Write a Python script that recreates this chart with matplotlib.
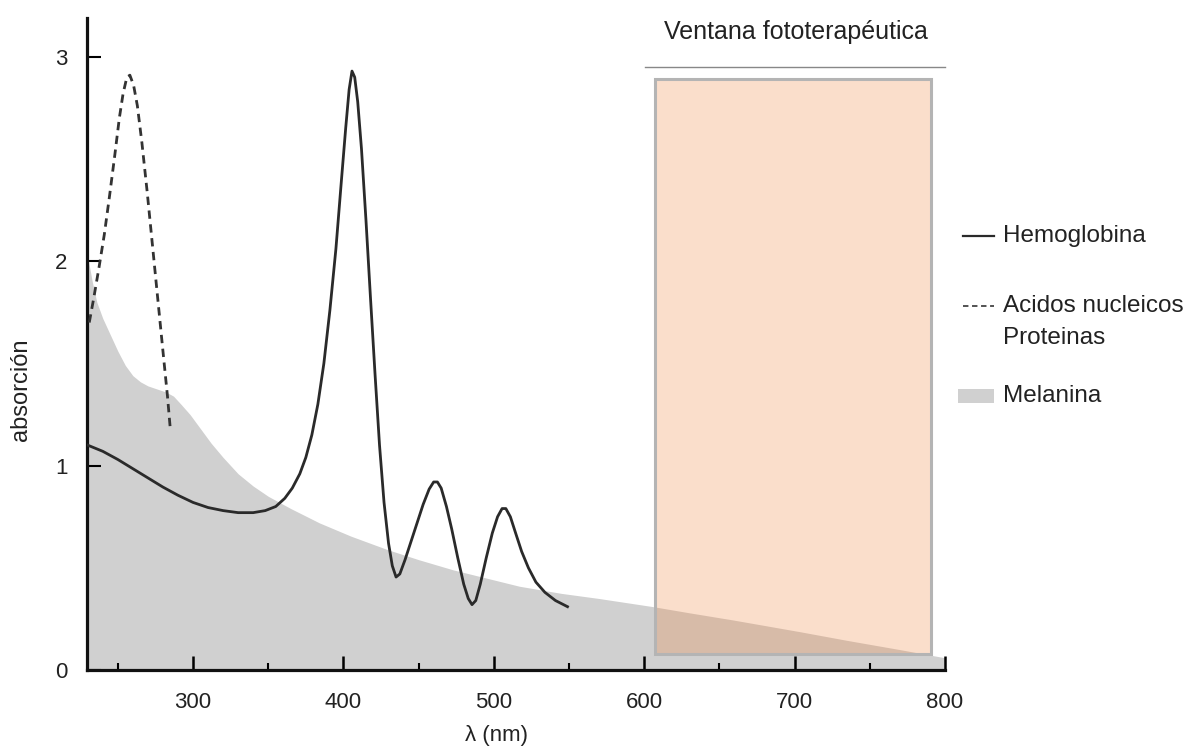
import matplotlib
matplotlib.use("Agg")
import matplotlib.pyplot as plt
from matplotlib.lines import Line2D
from matplotlib.patches import Rectangle

plt.rcParams['font.family'] = ['Liberation Sans', 'DejaVu Sans']

# ---- data ----
hemo_nm = [230, 240, 250, 260, 270, 280, 290, 300, 310, 320, 330, 340, 348, 355, 361, 366,
           371, 375, 379, 383, 387, 391, 395, 398.5, 401.5, 403.8, 405.7, 407.5, 409.5, 412,
           415, 418, 421, 424, 427, 430, 432.5, 435, 437.5, 441, 445, 449, 453, 457, 460,
           462.5, 465, 468.5, 472, 476, 480, 483, 485.5, 488, 491, 495, 499, 502.5, 505.5,
           508, 511, 514.5, 518.5, 523, 528, 534, 541, 549]
hemo_abs = [1.10, 1.07, 1.03, 0.985, 0.94, 0.895, 0.855, 0.82, 0.795, 0.78, 0.77, 0.77, 0.78,
            0.80, 0.84, 0.89, 0.96, 1.04, 1.15, 1.30, 1.50, 1.76, 2.06, 2.38, 2.65, 2.84, 2.93,
            2.90, 2.78, 2.55, 2.20, 1.82, 1.45, 1.10, 0.82, 0.62, 0.51, 0.455, 0.47, 0.54, 0.63,
            0.72, 0.81, 0.885, 0.92, 0.92, 0.89, 0.80, 0.69, 0.55, 0.42, 0.35, 0.32, 0.34, 0.42,
            0.55, 0.67, 0.75, 0.79, 0.79, 0.75, 0.67, 0.58, 0.50, 0.43, 0.38, 0.34, 0.31]

nuc_nm = [231, 234, 237.5, 241, 244.5, 248, 251, 253.5, 256, 258, 260.5, 263, 266, 269.5,
          273, 276.5, 280, 283, 285]
nuc_abs = [1.70, 1.82, 1.97, 2.13, 2.32, 2.52, 2.70, 2.82, 2.90, 2.91, 2.86, 2.76, 2.58, 2.34,
           2.08, 1.82, 1.56, 1.34, 1.17]

mel_nm = [230, 231, 233, 236, 240, 245, 250, 255, 260, 265, 270, 276, 282, 287, 292, 298,
          305, 312, 320, 330, 340, 350, 365, 384, 405, 429, 450, 473, 495, 517, 545, 570,
          606, 630, 659, 680, 704, 735, 770, 800]
mel_abs = [2.02, 1.98, 1.90, 1.80, 1.72, 1.64, 1.56, 1.49, 1.44, 1.41, 1.39, 1.375, 1.36, 1.34,
           1.30, 1.25, 1.18, 1.11, 1.04, 0.96, 0.90, 0.85, 0.79, 0.72, 0.655, 0.59, 0.54, 0.49,
           0.45, 0.41, 0.375, 0.35, 0.31, 0.28, 0.245, 0.218, 0.187, 0.145, 0.10, 0.06]

window_nm = [607, 791]
window_abs = [0.08, 2.89]

x_ticks = [300, 400, 500, 600, 700, 800]
x_minor = [250, 350, 450, 550, 650, 750]
y_ticks = [0, 1, 2, 3]

legend_labels = ["Hemoglobina", "Acidos nucleicos", "Proteinas", "Melanina"]

# ---- figure ----
fig = plt.figure(figsize=(12, 7.47), dpi=100)
ax = fig.add_axes([0.0725, 0.103, 0.7150, 0.873])

ax.fill_between(mel_nm, 0, mel_abs, color='#d0d0d0', lw=0, zorder=1)
ax.plot(hemo_nm, hemo_abs, color='#2a2a2a', lw=2.0, zorder=3, solid_joinstyle='round')
ax.plot(nuc_nm, nuc_abs, color='#333333', lw=2.0, ls=(0, (3, 2)), zorder=3)

rect = Rectangle((window_nm[0], window_abs[0]), window_nm[1] - window_nm[0],
                 window_abs[1] - window_abs[0], facecolor=(0.93, 0.50, 0.22, 0.26),
                 edgecolor='#b4b4b4', lw=2.2, zorder=2)
ax.add_patch(rect)

ax.plot([600.5, 800], [2.95, 2.95], color='#888888', lw=1.0, clip_on=False)
ax.text(701, 3.12, "Ventana fototerapéutica", ha='center', va='center', fontsize=18,
        color='#222222')

ax.set_xlim(229.5, 800)
ax.set_ylim(0, 3.19)
ax.set_xticks(x_ticks)
ax.set_xticks(x_minor, minor=True)
ax.set_yticks(y_ticks)
for s in ['top', 'right']:
    ax.spines[s].set_visible(False)
for s in ['left', 'bottom']:
    ax.spines[s].set_linewidth(2.3)
    ax.spines[s].set_color('#111111')
ax.tick_params(axis='x', which='major', direction='in', length=10, width=1.8, pad=16,
               labelsize=16, labelcolor='#222222')
ax.tick_params(axis='x', which='minor', direction='in', length=5, width=1.5)
ax.tick_params(axis='y', which='major', direction='in', length=10, width=1.5, pad=14,
               labelsize=16, labelcolor='#222222')
ax.set_xlabel("λ (nm)", fontsize=16, color='#222222')
ax.xaxis.set_label_coords(0.477, -0.085)
ax.set_ylabel("absorción", fontsize=17, color='#222222')
ax.yaxis.set_label_coords(-0.064, 0.43)

# ---- legend (drawn manually, figure coordinates) ----
def fy(py):
    return 1 - py / 747.0

def fx(px):
    return px / 1200.0

fs_leg = 17.5
fig.add_artist(Line2D([fx(963), fx(994)], [fy(236), fy(236)], color='#2a2a2a', lw=1.6))
fig.text(fx(1003), fy(236), legend_labels[0], va='center', ha='left', fontsize=fs_leg, color='#222222')
fig.add_artist(Line2D([fx(963), fx(994)], [fy(306), fy(306)], color='#444444', lw=1.3,
                      ls=(0, (3, 2))))
fig.text(fx(1003), fy(306), legend_labels[1], va='center', ha='left', fontsize=fs_leg, color='#222222')
fig.text(fx(1003), fy(338), legend_labels[2], va='center', ha='left', fontsize=fs_leg, color='#222222')
fig.add_artist(Rectangle((fx(958), fy(403)), fx(36), 14 / 747.0, facecolor='#d0d0d0',
                         edgecolor='none', transform=fig.transFigure))
fig.text(fx(1003), fy(396), legend_labels[3], va='center', ha='left', fontsize=fs_leg, color='#222222')

fig.savefig("out.png", dpi=100)
